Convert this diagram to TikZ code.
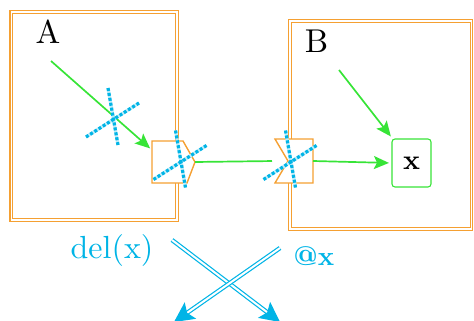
\documentclass[tikz,border=0pt]{standalone}
\usepackage{fontspec}
\setmainfont{lmroman10-regular}[Extension=.otf, BoldFont=lmroman10-bold]
\usetikzlibrary{arrows.meta,calc}
\definecolor{boxorange}{RGB}{245,160,50}
\definecolor{flowgreen}{RGB}{55,228,55}
\definecolor{cutcyan}{RGB}{0,180,230}
\tikzset{
  container/.style={draw=boxorange, double, line width=1.2pt, double distance=1.3pt, inner sep=0pt},
  port/.style={inner sep=0pt, outer sep=0pt},
  portline/.style={draw=boxorange, fill=white, line width=1.4pt, line join=miter},
  flow/.style={flowgreen, line width=1.7pt, shorten >=2.5pt, -{Stealth[length=15pt,width=13pt,inset=3pt]}},
  hatch/.style={cutcyan, line width=3.2pt, dash pattern=on 3pt off 2pt,
    preaction={draw=cutcyan!25, line width=3.2pt, solid}},
  cutarrow/.style={cutcyan, double, line width=1.2pt, double distance=2pt, -{Stealth[length=20pt,width=20pt,inset=4pt]}},
  lbl/.style={font=\fontsize{33}{36}\selectfont}
}
\begin{document}
\begin{tikzpicture}[x=1pt,y=-1pt]
  \useasboundingbox (0,0) rectangle (474,321);
  % containers
  \node[container, minimum width=165.7pt, minimum height=208pt] (boxA) at (94.15,116) {};
  \node[container, minimum width=181.5pt, minimum height=208pt] (boxB) at (380.75,125) {};
  \node[lbl] (labA) at (48,32) {A};
  \node[lbl] (labB) at (316.5,41.5) {B};
  % ports
  \node[port, minimum width=43pt, minimum height=42pt] (pa) at (173.5,162) {};
  \node[port, minimum width=38pt, minimum height=44pt] (pb) at (294,161) {};
  \draw[portline] (pa.north west) -- ++(31,0) -- (pa.east) -- ($(pa.south west)+(35,0)$) -- (pa.south west) -- cycle;
  \draw[portline] (pb.north west) -- (pb.north east) -- (pb.south east) -- (pb.south west) -- ($(pb.west)+(13,0)$) -- cycle;
  \node[draw=flowgreen, rounded corners=3pt, line width=1.1pt, minimum width=39pt, minimum height=48pt,
    font=\bfseries\fontsize{28}{30}\selectfont] (xn) at (411.5,163) {x};
  % flows
  \coordinate (aStart) at (51,61);
  \coordinate (bStart) at (339,70);
  \draw[flow] (aStart) -- (pa.151);
  \draw[flowgreen, line width=1.7pt, shorten >=3pt] (pa.east) -- (pb.west);
  \draw[flow] (pb.east) -- (xn.west);
  \draw[flow] (bStart) -- (xn);
  % cuts
  \foreach \c in {(113.5,120),(181,162.5),(291,162.5)}
    \draw[hatch, shift={\c}] (-27.5,17) -- (25.5,-17) (-5.5,-32) -- (4.5,25);
  % del / at
  \coordinate (delStart) at (172,240);
  \coordinate (delEnd) at (280,322);
  \coordinate (atStart) at (280,248);
  \coordinate (atEnd) at (174,322);
  \draw[cutarrow] (delStart) -- (delEnd);
  \draw[cutarrow] (atStart) -- (atEnd);
  \node[cutcyan, font=\fontsize{32}{34}\selectfont] (delLbl) at (112,250) {del(x)};
  \node[cutcyan, font=\bfseries\fontsize{27}{30}\selectfont] (atLbl) at (314,256) {@x};
\end{tikzpicture}
\end{document}
